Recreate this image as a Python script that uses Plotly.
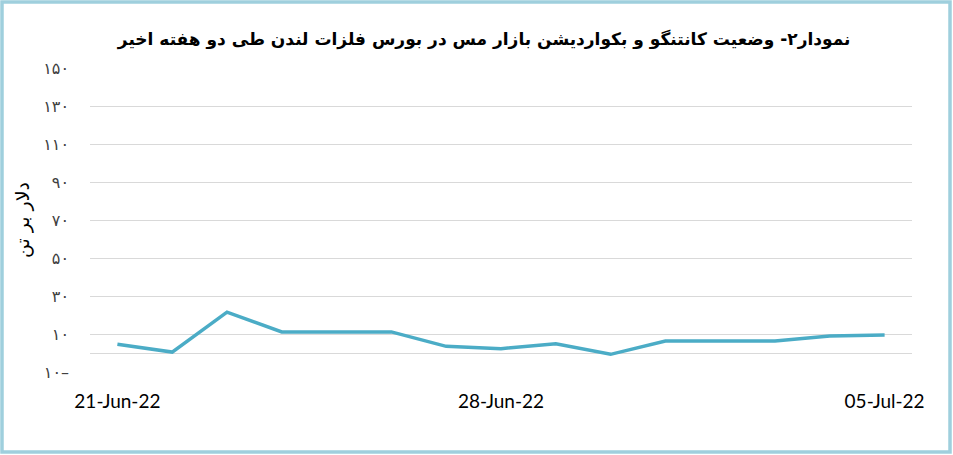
import plotly.graph_objects as go

# data
dates = ["21-Jun-22", "22-Jun-22", "23-Jun-22", "24-Jun-22", "25-Jun-22",
         "26-Jun-22", "27-Jun-22", "28-Jun-22", "29-Jun-22", "30-Jun-22",
         "01-Jul-22", "02-Jul-22", "03-Jul-22", "04-Jul-22", "05-Jul-22"]
spread = [4.6, 0.5, 21.5, 11.1, 11.1, 11.1, 3.5, 2.3, 4.9, -0.7,
          6.3, 6.3, 6.3, 9.0, 9.5]

x_ticks = ["21-Jun-22", "28-Jun-22", "05-Jul-22"]
y_ticks = [-10, 10, 30, 50, 70, 90, 110, 130, 150]
y_labels = ["۱۰–", "۱۰", "۳۰", "۵۰", "۷۰", "۹۰", "۱۱۰", "۱۳۰", "۱۵۰"]

title = "نمودار۲- وضعیت کانتنگو و بکواردیشن بازار مس در بورس فلزات لندن طی دو هفته اخیر"
y_title = "دلار بر تن"

W, H = 953, 455
ml, mr, mt, mb = 90, 41, 68, 83

fig = go.Figure()
fig.add_trace(go.Scatter(x=dates, y=spread, mode="lines",
                         line=dict(color="#4bacc6", width=3.5),
                         showlegend=False))

fig.update_layout(
    width=W, height=H,
    margin=dict(l=ml, r=mr, t=mt, b=mb),
    paper_bgcolor="white", plot_bgcolor="white",
    title=dict(text="<b>" + title + "</b>", x=0.508, xanchor="center",
               y=1 - 39 / H, yanchor="middle",
               font=dict(family="DejaVu Sans", size=17, color="black")),
    font=dict(family="DejaVu Sans"),
)

fig.update_xaxes(type="category", range=[-0.5, len(dates) - 0.5],
                 tickvals=x_ticks, ticktext=x_ticks,
                 showgrid=False, showline=False, ticks="",
                 ticklabelstandoff=16,
                 tickfont=dict(family="Lato", size=19, color="black"))

fig.update_yaxes(range=[-10, 150], tickvals=y_ticks, ticktext=y_labels,
                 showgrid=True, gridcolor="#d9d9d9", gridwidth=1,
                 zeroline=True, zerolinecolor="#d9d9d9", zerolinewidth=1,
                 showline=False, ticks="", ticklabelstandoff=20,
                 tickfont=dict(family="DejaVu Sans", size=16, color="#404040"))

# y axis title
fig.add_annotation(text=y_title, textangle=-90, showarrow=False,
                   xref="paper", yref="paper",
                   x=-(ml - 22) / (W - ml - mr), y=0.5,
                   xanchor="center", yanchor="middle",
                   font=dict(family="DejaVu Sans", size=19, color="black"))

# light blue frame round the whole picture
pw, ph = W - ml - mr, H - mt - mb
fig.add_shape(type="rect", xref="paper", yref="paper",
              x0=-(ml - 2) / pw, x1=1 + (mr - 3) / pw,
              y0=-(mb - 3) / ph, y1=1 + (mt - 2) / ph,
              line=dict(color="#9fcfdd", width=3.5), layer="below")

# drop the page's default body margin so the figure sits at 0,0
fig.write_html("out.html", config={"displayModeBar": False},
               post_script="document.body.style.margin='0';")
